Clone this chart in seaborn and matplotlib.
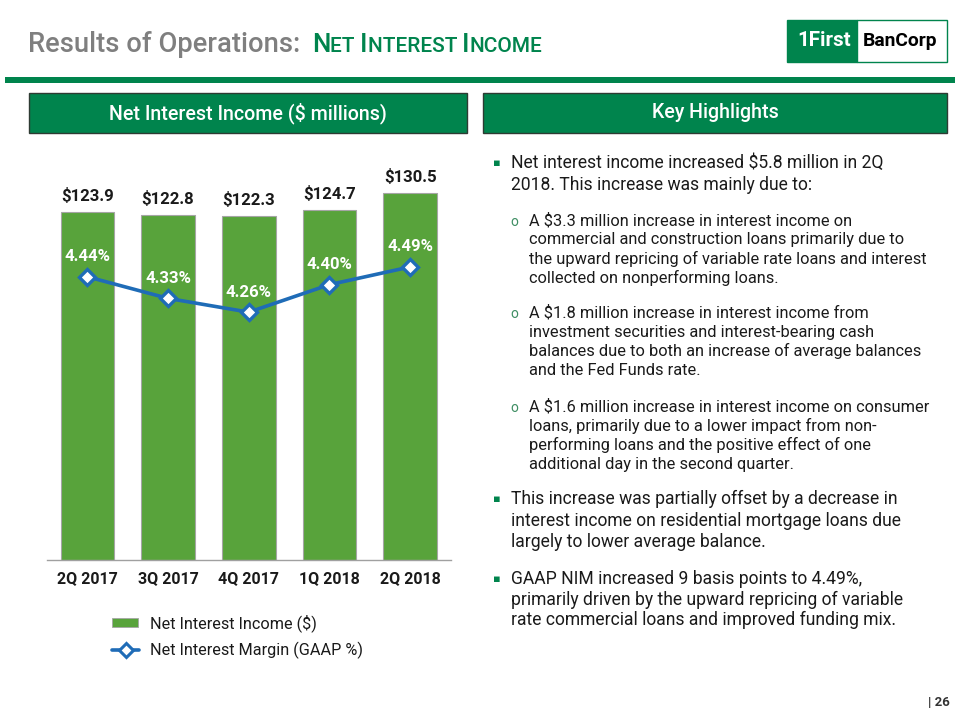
import numpy as np
import matplotlib
matplotlib.use("Agg")
import matplotlib.pyplot as plt
import seaborn as sns
from matplotlib.patches import Rectangle
from matplotlib.lines import Line2D

# ---------------- data ----------------
quarters = ["2Q 2017", "3Q 2017", "4Q 2017", "1Q 2018", "2Q 2018"]
net_interest_income = [123.9, 122.8, 122.3, 124.7, 130.5]
net_interest_margin = [4.44, 4.33, 4.26, 4.40, 4.49]

title_gray = "Results of Operations:"
title_green = "Net Interest Income"
header_left = "Net Interest Income ($ millions)"
header_right = "Key Highlights"
legend_labels = ["Net Interest Income ($)", "Net Interest Margin (GAAP %)"]
logo_left = "1First"
logo_right = "BanCorp"
page_label = "| 26"

bullet_main_1 = ["Net interest income increased $5.8 million in 2Q",
                 "2018. This increase was mainly due to:"]
bullet_sub_1 = ["A $3.3 million increase in interest income on",
                "commercial and construction loans primarily due to",
                "the upward repricing of variable rate loans and interest",
                "collected on nonperforming loans."]
bullet_sub_2 = ["A $1.8 million increase in interest income from",
                "investment securities and interest-bearing cash",
                "balances due to both an increase of average balances",
                "and the Fed Funds rate."]
bullet_sub_3 = ["A $1.6 million increase in interest income on consumer",
                "loans, primarily due to a lower impact from non-",
                "performing loans and the positive effect of one",
                "additional day in the second quarter."]
bullet_main_2 = ["This increase was partially offset by a decrease in",
                 "interest income on residential mortgage loans due",
                 "largely to lower average balance."]
bullet_main_3 = ["GAAP NIM increased 9 basis points to 4.49%,",
                 "primarily driven by the upward repricing of variable",
                 "rate commercial loans and improved funding mix."]

# ---------------- style ----------------
sns.set_style("white")
BODY = ["Roboto", "DejaVu Sans"]
plt.rcParams["font.family"] = BODY

GREEN_DARK = "#00844D"
GREEN_BAR = "#58A33B"
BLUE = "#1F6CB7"
GRAY_TITLE = "#7F7F7F"
TXT = "#1A1A1A"

W, H = 960, 720
fig = plt.figure(figsize=(9.6, 7.2), dpi=100)
renderer = fig.canvas.get_renderer()


def fx(x):
    return x / W


def fy(y):
    return 1 - y / H


def width_px(s, size, **kw):
    t = fig.text(0, 0, s, fontsize=size, **kw)
    w = t.get_window_extent(renderer).width
    t.remove()
    return w


def fit(s, target, **kw):
    return 10 * target / width_px(s, 10, **kw)


# ---------------- title ----------------
TW = "medium"
tsize = fit(title_gray, 272, weight=TW)
fig.text(fx(28), fy(52), title_gray, fontsize=tsize, weight=TW,
         color=GRAY_TITLE, va="baseline", ha="left")

pieces = []
words = title_green.split(" ")
for wi, word in enumerate(words):
    pieces.append((word[0].upper(), True))
    rest = word[1:].upper() + (" " if wi < len(words) - 1 else "")
    pieces.append((rest, False))


def sc_width(big):
    return sum(width_px(p, big if b else big * 0.8, weight=TW) for p, b in pieces)


big = 10 * 228 / sc_width(10)
xcur = 312
for p, b in pieces:
    s = big if b else big * 0.8
    fig.text(fx(xcur), fy(52), p, fontsize=s, weight=TW, color=GREEN_DARK,
             va="baseline", ha="left")
    xcur += width_px(p, s, weight=TW)

# logo
fig.patches.append(Rectangle((fx(787), fy(62)), fx(857) - fx(787), fy(20) - fy(62),
                             transform=fig.transFigure, facecolor=GREEN_DARK,
                             edgecolor=GREEN_DARK, lw=1))
fig.patches.append(Rectangle((fx(857), fy(62)), fx(947) - fx(857), fy(20) - fy(62),
                             transform=fig.transFigure, facecolor="white",
                             edgecolor=GREEN_DARK, lw=1))
LOGO_FONT = ["Roboto", "DejaVu Sans"]
ls = fit(logo_left, 54, weight="bold", family=LOGO_FONT)
fig.text(fx(824), fy(41), logo_left, fontsize=ls, weight="bold", family=LOGO_FONT,
         color="white", ha="center", va="center")
rs = fit(logo_right, 75, weight="bold", family=LOGO_FONT)
fig.text(fx(900), fy(41), logo_right, fontsize=rs, weight="bold", family=LOGO_FONT,
         color="black", ha="center", va="center")

# green rule
fig.patches.append(Rectangle((fx(5), fy(83)), fx(955) - fx(5), fy(77) - fy(83),
                             transform=fig.transFigure, facecolor=GREEN_DARK,
                             edgecolor="none"))

# header boxes
hs = fit(header_left, 277, weight="medium")
for (x0, x1, label) in [(29, 467, header_left), (483, 947, header_right)]:
    fig.patches.append(Rectangle((fx(x0), fy(133)), fx(x1) - fx(x0), fy(93) - fy(133),
                                 transform=fig.transFigure, facecolor=GREEN_DARK,
                                 edgecolor="#2E3B33", lw=1.0))
    fig.text(fx((x0 + x1) / 2), fy(113), label, fontsize=hs, weight="medium",
             color="white", ha="center", va="center")

# ---------------- chart ----------------
ax_top, ax_bot = 166.6, 560
ax = fig.add_axes([fx(47), fy(ax_bot), fx(450.5) - fx(47), (ax_bot - ax_top) / H])
sns.barplot(x=quarters, y=net_interest_income, color=GREEN_BAR, saturation=1,
            width=0.663, edgecolor="#A5A5A5", linewidth=0.8, ax=ax)
ax.set_ylim(0, 140)
ax.set_xlim(-0.5, len(quarters) - 0.5)
for sp in ["left", "right", "top"]:
    ax.spines[sp].set_visible(False)
ax.spines["bottom"].set_color("#A0A0A0")
ax.spines["bottom"].set_linewidth(1.0)
ax.set_yticks([])
ax.set_ylabel("")
ax.set_xlabel("")
ax.set_xticks(np.arange(-0.5, len(quarters)), minor=True)
ax.tick_params(axis="x", which="major", length=0, pad=8)
ax.tick_params(axis="x", which="minor", length=5, color="#A0A0A0", width=1.0)
ticksize = fit(quarters[0], 61, weight="bold")
for lab in ax.get_xticklabels():
    lab.set_fontsize(ticksize)
    lab.set_fontweight("bold")
    lab.set_color(TXT)

valsize = fit("$123.9", 53, weight="bold")
for i, v in enumerate(net_interest_income):
    ax.annotate(f"${v:.1f}", (i, v), xytext=(0, 11.5), textcoords="offset points",
                ha="center", va="center", fontsize=valsize, weight="bold", color=TXT)

ax2 = ax.twinx()
sns.lineplot(x=np.arange(len(quarters)), y=net_interest_margin, ax=ax2, color=BLUE,
             linewidth=2.6, marker="D", markersize=8, markerfacecolor="white",
             markeredgecolor=BLUE, markeredgewidth=2.4)
ax2.set_ylim(3.0, 5.0)
ax2.set_xlim(-0.5, len(quarters) - 0.5)
ax2.set_yticks([])
ax2.set_ylabel("")
for sp in ax2.spines.values():
    sp.set_visible(False)
pctsize = fit("4.44%", 46, weight="bold")
for i, v in enumerate(net_interest_margin):
    ax2.annotate(f"{v:.2f}%", (i, v), xytext=(0, 14.5), textcoords="offset points",
                 ha="center", va="center", fontsize=pctsize, weight="bold", color="white")

# legend (manual placement under chart)
legsize = fit(legend_labels[0], 167)
fig.patches.append(Rectangle((fx(112), fy(627)), fx(138) - fx(112), fy(618) - fy(627),
                             transform=fig.transFigure, facecolor=GREEN_BAR,
                             edgecolor="#A5A5A5", lw=0.6))
fig.lines.append(Line2D([fx(112), fx(139)], [fy(650), fy(650)], transform=fig.transFigure,
                        color=BLUE, lw=2.6))
fig.lines.append(Line2D([fx(125.5)], [fy(650)], transform=fig.transFigure, marker="D",
                        markersize=7, markerfacecolor="white", markeredgecolor=BLUE,
                        markeredgewidth=2.2, color=BLUE))
fig.text(fx(150), fy(623), legend_labels[0], fontsize=legsize, color=TXT, va="center")
fig.text(fx(150), fy(650), legend_labels[1], fontsize=legsize, color=TXT, va="center")

# ---------------- key highlights text ----------------
main_size = fit(bullet_main_1[1], 302)
sub_size = fit(bullet_sub_1[2], 396)

blocks = [
    ("main", bullet_main_1, 163, 21.5),
    ("sub", bullet_sub_1, 220.5, 19.2),
    ("sub", bullet_sub_2, 313, 19.2),
    ("sub", bullet_sub_3, 407, 19.0),
    ("main", bullet_main_2, 499, 21.5),
    ("main", bullet_main_3, 579, 20.5),
]
for kind, lines, y0, dy in blocks:
    if kind == "main":
        fig.text(fx(497), fy(y0), "\u25aa", fontsize=main_size * 0.65, color=GREEN_DARK,
                 family="DejaVu Sans", ha="center", va="center")
        tx, size = 511, main_size
    else:
        fig.text(fx(514), fy(y0 + 1), "o", fontsize=sub_size * 0.85, color="#3E8E63",
                 ha="center", va="center")
        tx, size = 529, sub_size
    for k, line in enumerate(lines):
        fig.text(fx(tx), fy(y0 + k * dy), line, fontsize=size, color=TXT,
                 ha="left", va="center")

# page number
psize = fit("26", 15, weight="bold")
fig.text(fx(950), fy(702), page_label, fontsize=psize, weight="bold",
         color="#333333", ha="right", va="center")

fig.savefig("out.png", dpi=100)
